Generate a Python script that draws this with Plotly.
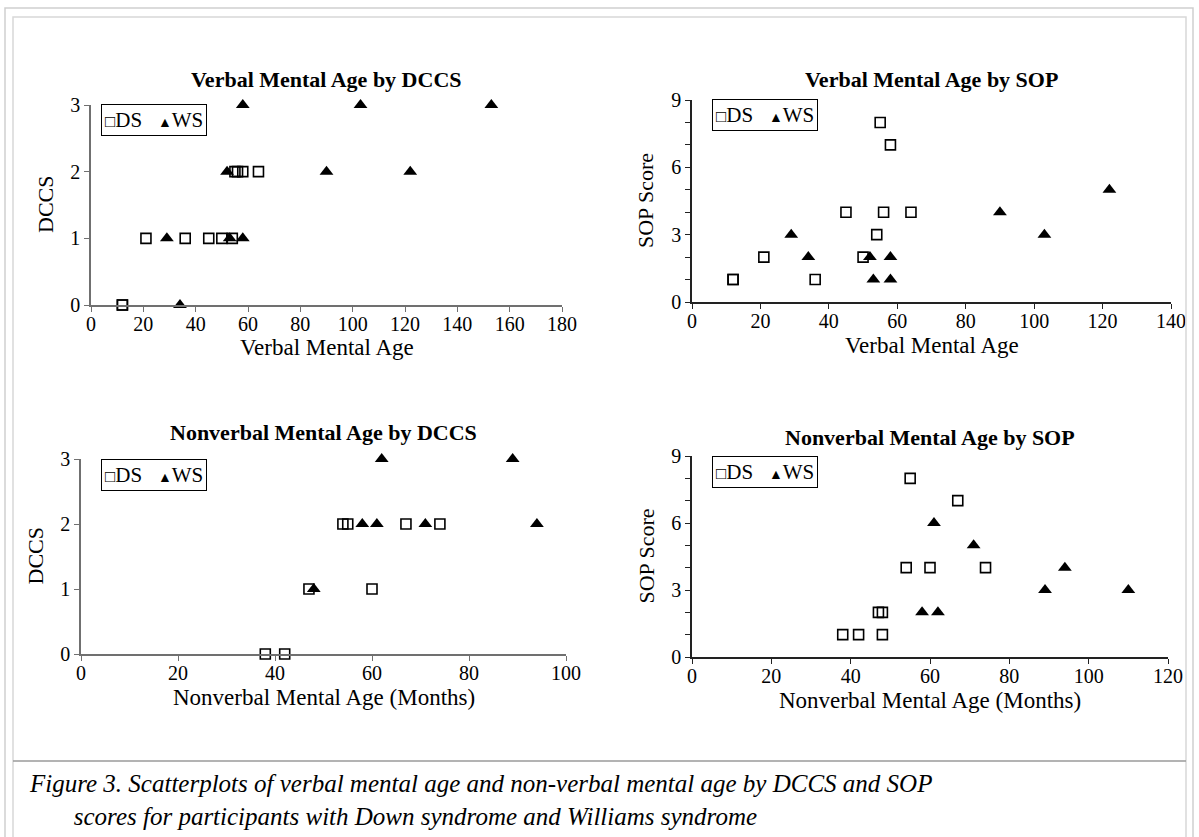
import plotly.graph_objects as go

# ---------------- data ----------------
# Panel 1: Verbal Mental Age by DCCS
p1_ds_x = [12, 12, 21, 36, 45, 50, 54, 55, 56, 58, 64]
p1_ds_y = [0, 0, 1, 1, 1, 1, 1, 2, 2, 2, 2]
p1_ws_x = [34, 29, 53, 58, 52, 90, 122, 58, 103, 153]
p1_ws_y = [0, 1, 1, 1, 2, 2, 2, 3, 3, 3]

# Panel 2: Verbal Mental Age by SOP
p2_ds_x = [12, 12, 36, 21, 50, 54, 45, 56, 64, 58, 55]
p2_ds_y = [1, 1, 1, 2, 2, 3, 4, 4, 4, 7, 8]
p2_ws_x = [53, 58, 34, 52, 58, 29, 103, 90, 122]
p2_ws_y = [1, 1, 2, 2, 2, 3, 3, 4, 5]

# Panel 3: Nonverbal Mental Age by DCCS
p3_ds_x = [38, 42, 47, 60, 54, 55, 67, 74]
p3_ds_y = [0, 0, 1, 1, 2, 2, 2, 2]
p3_ws_x = [48, 58, 61, 71, 94, 62, 89]
p3_ws_y = [1, 2, 2, 2, 2, 3, 3]

# Panel 4: Nonverbal Mental Age by SOP
p4_ds_x = [38, 42, 48, 47, 48, 54, 60, 74, 67, 55]
p4_ds_y = [1, 1, 1, 2, 2, 4, 4, 4, 7, 8]
p4_ws_x = [58, 62, 89, 110, 94, 71, 61]
p4_ws_y = [2, 2, 3, 3, 4, 5, 6]

titles = ["Verbal Mental Age by DCCS", "Verbal Mental Age by SOP",
          "Nonverbal Mental Age by DCCS", "Nonverbal Mental Age by SOP"]
x_titles = ["Verbal Mental Age", "Verbal Mental Age",
            "Nonverbal Mental Age (Months)", "Nonverbal Mental Age (Months)"]
y_titles = ["DCCS", "SOP Score", "DCCS", "SOP Score"]
x_ranges = [[0, 180], [0, 140], [0, 100], [0, 120]]
y_ranges = [[0, 3], [0, 9], [0, 3], [0, 9]]
group_names = ["DS", "WS"]
caption_lines = ["Figure 3. Scatterplots of verbal mental age and non-verbal mental age by DCCS and SOP",
                 "scores for participants with Down syndrome and Williams syndrome"]

# ---------------- layout geometry (pixels) ----------------
W, H = 1199, 837
SERIF = "Liberation Serif, Times New Roman, serif"
# plot areas: (left, right, top, bottom)
boxes = [(91, 562, 105, 305), (692, 1171, 100, 302),
         (81, 566, 459, 654), (692, 1168, 456, 657)]
axis_colors = ["#707070", "#222222", "#707070", "#222222"]
title_y = [80, 80, 432, 437]
legend_box = [(101, 104), (712, 99), (101, 459), (712, 456)]


def fx(px):
    return px / W


def fy(py):
    return 1 - py / H


fig = go.Figure()
panels = [(p1_ds_x, p1_ds_y, p1_ws_x, p1_ws_y),
          (p2_ds_x, p2_ds_y, p2_ws_x, p2_ws_y),
          (p3_ds_x, p3_ds_y, p3_ws_x, p3_ws_y),
          (p4_ds_x, p4_ds_y, p4_ws_x, p4_ws_y)]

annotations = []
layout_axes = {}
for i, (dsx, dsy, wsx, wsy) in enumerate(panels):
    n = "" if i == 0 else str(i + 1)
    xa, ya = "x" + n, "y" + n
    fig.add_trace(go.Scatter(x=dsx, y=dsy, mode="markers", xaxis=xa, yaxis=ya,
                             showlegend=False, cliponaxis=False, name=group_names[0],
                             marker=dict(symbol="square-open", size=10, color="black",
                                         line=dict(width=1.6, color="black"))))
    fig.add_trace(go.Scatter(x=wsx, y=wsy, mode="markers", xaxis=xa, yaxis=ya,
                             showlegend=False, cliponaxis=False, name=group_names[1],
                             marker=dict(symbol="triangle-up", size=12, color="black")))

    l, r, t, b = boxes[i]
    ac = axis_colors[i]
    common = dict(showline=True, linecolor=ac, linewidth=1.5, ticks="outside",
                  ticklen=5, tickcolor=ac, tickwidth=1.2, showgrid=False,
                  zeroline=False, automargin=False,
                  tickfont=dict(family=SERIF, size=20, color="black"))
    xaxis = dict(domain=[fx(l), fx(r)], range=x_ranges[i], anchor=ya, dtick=20,
                 ticklabelstandoff=-5, **common)
    ydt = 1 if y_ranges[i][1] == 3 else 3
    yaxis = dict(domain=[fy(b), fy(t)], range=y_ranges[i], anchor=xa, dtick=ydt, **common)
    if ydt == 3:
        yaxis["minor"] = dict(dtick=1, ticks="outside", ticklen=5, tickcolor=ac,
                              tickwidth=1.2, showgrid=False)
    layout_axes["xaxis" + n] = xaxis
    layout_axes["yaxis" + n] = yaxis

    # legend box
    lx, ly = legend_box[i]
    leg_text = ('<span style="font-size:17px">\u25a1</span>' + group_names[0] +
                '&nbsp;&nbsp;&nbsp;<span style="font-size:14px">\u25b2</span>' + group_names[1])
    annotations.append(dict(text=leg_text, x=fx(lx), y=fy(ly), xref="paper", yref="paper",
                            showarrow=False, xanchor="left", yanchor="top",
                            bordercolor="black", borderwidth=1, borderpad=3,
                            bgcolor="white",
                            font=dict(family=SERIF, size=21, color="black")))

    cx = (l + r) / 2
    annotations.append(dict(text="<b>" + titles[i] + "</b>", x=fx(cx), y=fy(title_y[i]),
                            xref="paper", yref="paper", showarrow=False,
                            xanchor="center", yanchor="middle",
                            font=dict(family=SERIF, size=22, color="black")))
    annotations.append(dict(text=x_titles[i], x=fx(cx), y=fy(b + 43),
                            xref="paper", yref="paper", showarrow=False,
                            xanchor="center", yanchor="middle",
                            font=dict(family=SERIF, size=23, color="black")))
    annotations.append(dict(text=y_titles[i], x=fx(l - 46), y=fy((t + b) / 2),
                            xref="paper", yref="paper", showarrow=False, textangle=-90,
                            xanchor="center", yanchor="middle",
                            font=dict(family=SERIF, size=22, color="black")))

caption_html = ("<i>" + caption_lines[0] + "<br>" + "&nbsp;" * 7 + caption_lines[1] + "</i>")
annotations.append(dict(text=caption_html, x=fx(27), y=fy(800), xref="paper", yref="paper",
                        showarrow=False, xanchor="left", yanchor="middle", align="left",
                        font=dict(family=SERIF, size=25, color="black")))

shapes = [
    dict(type="rect", xref="paper", yref="paper", x0=fx(5), x1=fx(1193), y0=fy(845), y1=fy(8),
         line=dict(color="#cfcfcf", width=1.5)),
    dict(type="rect", xref="paper", yref="paper", x0=fx(13), x1=fx(1186), y0=fy(845), y1=fy(17),
         line=dict(color="#d8d8d8", width=1.5)),
    dict(type="line", xref="paper", yref="paper", x0=fx(13), x1=fx(1186), y0=fy(761), y1=fy(761),
         line=dict(color="#9a9a9a", width=1.5)),
]

fig.update_layout(width=W, height=H, template="none",
                  margin=dict(l=0, r=0, t=0, b=0, pad=0, autoexpand=False),
                  paper_bgcolor="white", plot_bgcolor="white", showlegend=False,
                  annotations=annotations, shapes=shapes, **layout_axes)

fig.write_html("out.html", config={"displayModeBar": False},
               post_script="document.body.style.margin='0';document.body.style.overflow='hidden';")
